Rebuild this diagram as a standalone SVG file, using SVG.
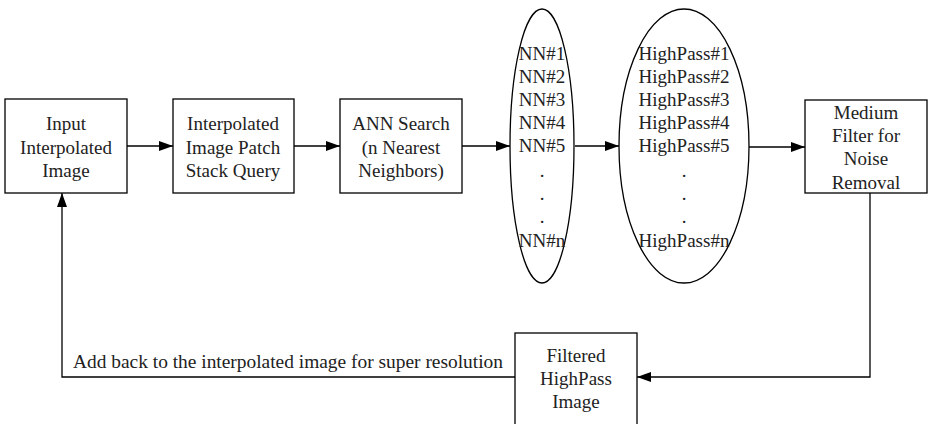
<svg xmlns="http://www.w3.org/2000/svg" width="929" height="424" viewBox="0 0 929 424">
<defs>
<marker id="ah" markerWidth="14" markerHeight="10" refX="14" refY="5" orient="auto" markerUnits="userSpaceOnUse">
<path d="M0,0 L14,5 L0,10 Z" fill="#000"/>
</marker>
<style>
.box{fill:#fff;stroke:#000;stroke-width:1.3}
.ell{fill:#fff;stroke:#000;stroke-width:1.3}
text{font-family:'Liberation Serif','DejaVu Serif',serif;font-size:19px;fill:#222;text-anchor:middle;dominant-baseline:central}
.c{fill:none;stroke:#000;stroke-width:1.3}
</style>
</defs>
<rect width="929" height="424" fill="#fff"/>
<g id="connectors">
<line class="c" x1="127" y1="146" x2="173" y2="146" marker-end="url(#ah)"/>
<line class="c" x1="294" y1="146" x2="340" y2="146" marker-end="url(#ah)"/>
<line class="c" x1="462" y1="146" x2="510" y2="146" marker-end="url(#ah)"/>
<line class="c" x1="575" y1="146" x2="619" y2="146" marker-end="url(#ah)"/>
<line class="c" x1="749" y1="147" x2="805" y2="147" marker-end="url(#ah)"/>
<polyline class="c" points="870,193 870,377 637,377" marker-end="url(#ah)"/>
<polyline class="c" points="515,377 62,377 62,193" marker-end="url(#ah)"/>
<text x="73" y="361" font-family="Liberation Serif, serif" style="text-anchor:start" textLength="430" lengthAdjust="spacingAndGlyphs">Add back to the interpolated image for super resolution</text>
</g>
<g id="input" font-family="Liberation Serif, serif">
<rect class="box" x="5" y="99" width="122" height="94"/>
<text x="66" y="123">Input</text>
<text x="66" y="147">Interpolated</text>
<text x="66" y="170">Image</text>
</g>
<g id="query" font-family="Liberation Serif, serif">
<rect class="box" x="173" y="99" width="121" height="94"/>
<text x="233" y="123">Interpolated</text>
<text x="233" y="147">Image Patch</text>
<text x="233" y="170">Stack Query</text>
</g>
<g id="ann" font-family="Liberation Serif, serif">
<rect class="box" x="340" y="99" width="122" height="94"/>
<text x="401" y="123">ANN Search</text>
<text x="401" y="147">(n Nearest</text>
<text x="401" y="170">Neighbors)</text>
</g>
<g id="nn" font-family="Liberation Serif, serif">
<ellipse class="ell" cx="542" cy="146" rx="32" ry="137"/>
<text x="542" y="53">NN#1</text>
<text x="542" y="76">NN#2</text>
<text x="542" y="99">NN#3</text>
<text x="542" y="122">NN#4</text>
<text x="542" y="145">NN#5</text>
<text x="542" y="170">.</text>
<text x="542" y="193">.</text>
<text x="542" y="216">.</text>
<text x="542" y="240">NN#n</text>
</g>
<g id="highpass" font-family="Liberation Serif, serif">
<ellipse class="ell" cx="684" cy="146" rx="65" ry="137"/>
<text x="684" y="53">HighPass#1</text>
<text x="684" y="76">HighPass#2</text>
<text x="684" y="99">HighPass#3</text>
<text x="684" y="122">HighPass#4</text>
<text x="684" y="145">HighPass#5</text>
<text x="684" y="170">.</text>
<text x="684" y="193">.</text>
<text x="684" y="216">.</text>
<text x="684" y="240">HighPass#n</text>
</g>
<g id="medium" font-family="Liberation Serif, serif">
<rect class="box" x="805" y="100" width="122" height="93"/>
<text x="866" y="112">Medium</text>
<text x="866" y="135">Filter for</text>
<text x="866" y="158">Noise</text>
<text x="866" y="182">Removal</text>
</g>
<g id="filtered" font-family="Liberation Serif, serif">
<rect class="box" x="515" y="333" width="122" height="100"/>
<text x="576" y="355">Filtered</text>
<text x="576" y="378">HighPass</text>
<text x="576" y="401">Image</text>
</g>
</svg>
